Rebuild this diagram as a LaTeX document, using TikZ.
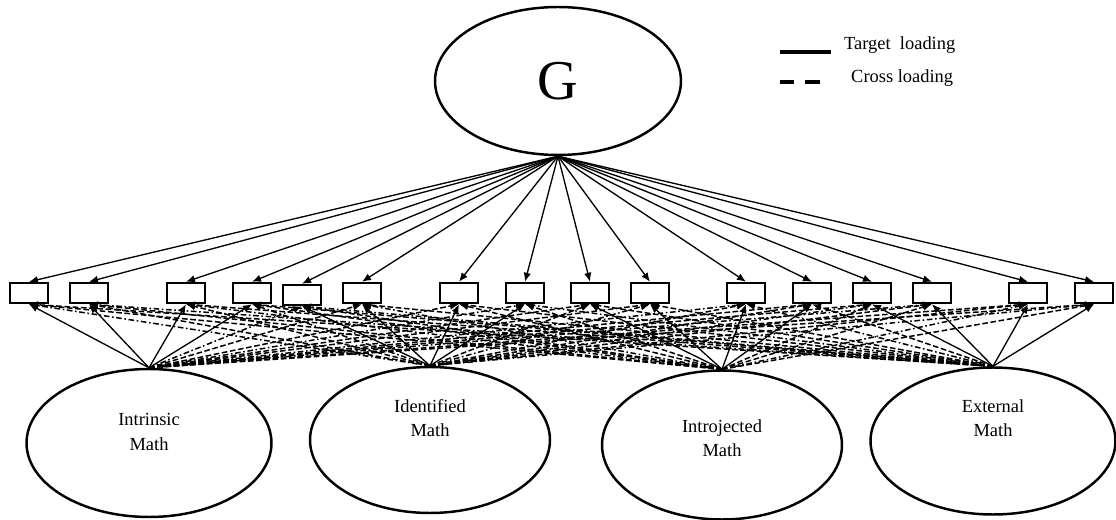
\documentclass[tikz,border=0pt]{standalone}
\usepackage{fontspec}
\setmainfont{Liberation Serif}
\usetikzlibrary{arrows.meta,shapes.geometric}

\begin{document}
\begin{tikzpicture}[x=0.02cm, y=-0.02cm,
        latent/.style={draw, ellipse, line width=1.4pt, inner sep=0pt},
        lbl/.style={align=center, font=\fontsize{10.5}{14}\selectfont},
        item/.style={draw, rectangle, line width=1.4pt, minimum width=0.76cm, minimum height=0.4cm, inner sep=0pt},
        load/.style={-{Latex[length=1.8mm, width=1.5mm]}, line width=0.75pt},
        cross/.style={load, line width=0.85pt, dash pattern=on 3.2pt off 1.5pt},
        crossdot/.style={load, line width=0.85pt, dash pattern=on 3.2pt off 1.5pt on 0.9pt off 1.5pt}]

        \useasboundingbox (0,0) rectangle (1116,520);

        % general factor
        \node[latent, minimum width=4.92cm, minimum height=2.96cm, font=\fontsize{32}{36}\selectfont] (G) at (558,81) {G};

        % indicators
        \foreach \x/\y [count=\i] in {29/293,89/293,186/293,252/293,302/295,362/293,459/293,525/293,
                                       590/293,650/293,746/293,812/293,872/293,932/293,1028/293,1094/293}
          \node[item] (y\i) at (\x,\y) {};

        % specific factors
        \node[latent, minimum width=4.9cm, minimum height=2.96cm, label={[lbl, yshift=0.22cm]center:Intrinsic\\Math}] (f1) at (149,443) {};
        \node[latent, minimum width=4.8cm, minimum height=2.92cm, label={[lbl, yshift=0.44cm]center:Identified\\Math}] (f2) at (430,440) {};
        \node[latent, minimum width=4.8cm, minimum height=2.98cm, label={[lbl, yshift=0.14cm]center:Introjected\\Math}] (f3) at (722,445) {};
        \node[latent, minimum width=4.9cm, minimum height=2.94cm, label={[lbl, yshift=0.46cm]center:External\\Math}] (f4) at (993,441) {};

        \foreach \i in {1,...,16}
          \draw[load] (G.south) -- (y\i.north);

        % target loadings solid, cross loadings dashed
        \foreach \f in {1,...,4}
          \foreach \i in {1,...,16}{
            \pgfmathtruncatemacro{\grp}{int((\i-1)/4)+1}
            \pgfmathtruncatemacro{\kind}{mod(\i+\f,3)}
            \ifnum\grp=\f
              \draw[load] (f\f.north) -- (y\i.south);
            \else\ifnum\kind=0
              \draw[crossdot] (f\f.north) -- (y\i.south);
            \else
              \draw[cross] (f\f.north) -- (y\i.south);
            \fi\fi
          }

        % legend
        \coordinate (ta) at (780,52);
        \coordinate (tb) at (831,52);
        \coordinate (ca) at (780,82);
        \coordinate (cb) at (822,82);
        \draw[line width=1.9pt] (ta) -- (tb);
        \draw[line width=1.9pt, dash pattern=on 8pt off 6.5pt] (ca) -- (cb);
        \node[anchor=west, font=\fontsize{10.5}{12}\selectfont] (tl) at (838,45) {Target\ \ loading};
        \node[anchor=west, font=\fontsize{10.5}{12}\selectfont] (cl) at (845,78) {Cross loading};
      \end{tikzpicture}
\end{document}
